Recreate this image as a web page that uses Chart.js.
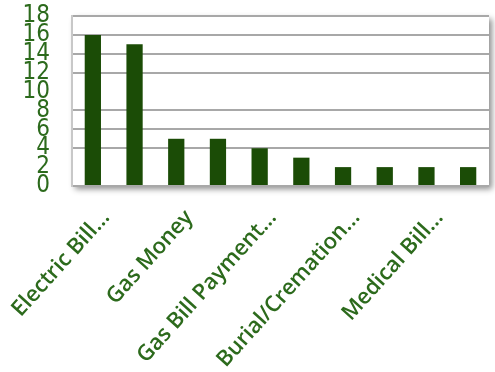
<!DOCTYPE html>
<html>
<head>
<meta charset="utf-8">
<script src="https://cdn.jsdelivr.net/npm/chart.js@4"></script>
<style>
  html, body { margin: 0; padding: 0; background: #fff; }
  #wrap { width: 495px; height: 372px; }
</style>
</head>
<body>
<div id="wrap"><canvas id="helpChart"></canvas></div>
<script>
// only every other category name is readable in the picture
const categories = ['Electric Bill...', '', 'Gas Money', '', 'Gas Bill Payment...', '', 'Burial/Cremation...', '', 'Medical Bill...', '']
const counts = [16, 15, 5, 5, 4, 3, 2, 2, 2, 2]
const yTicks = [0, 2, 4, 6, 8, 10, 12, 14, 16, 18]
const hiddenGrid = [2, 10]

const green = '#1b4c06'
const textGreen = '#2c6a1c'

// soft shadow behind the plot area
const plotShadow = {
  id: 'plotShadow',
  beforeDraw(chart) {
    const { ctx, chartArea: a } = chart
    ctx.save()
    ctx.shadowColor = 'rgba(0,0,0,0.45)'
    ctx.shadowBlur = 6
    ctx.shadowOffsetX = 3
    ctx.shadowOffsetY = 3
    ctx.fillStyle = '#fff'
    ctx.fillRect(a.left, a.top, a.right - a.left, a.bottom - a.top)
    ctx.restore()
  }
}

const ctx = document.getElementById('helpChart')

let config = {
  type: 'bar',
  data: {
    labels: categories,
    datasets: [{
      label: 'Count',
      data: counts,
      backgroundColor: green,
      borderWidth: 0,
      barPercentage: 0.39,
      categoryPercentage: 1.0,
    }]
  },
  options: {
    responsive: true,
    maintainAspectRatio: false,
    animation: false,
    layout: { padding: { top: 16, right: 6, left: 0, bottom: 0 } },
    plugins: {
      legend: { display: false },
      tooltip: { enabled: false }
    },
    scales: {
      x: {
        grid: { display: false, drawTicks: false },
        border: { display: false },
        afterFit: scale => {
          scale.height = 186
          scale.paddingLeft = 0
          scale.paddingRight = 0
        },
        ticks: {
          autoSkip: false,
          minRotation: 48,
          maxRotation: 48,
          padding: 19,
          labelOffset: 13,
          color: textGreen,
          font: { family: 'Open Sans', size: 22, weight: '600' }
        }
      },
      y: {
        min: 0,
        max: 18,
        afterBuildTicks: scale => { scale.ticks = yTicks.map(v => ({ value: v })) },
        afterFit: scale => {
          scale.width = 72
          scale.paddingTop = 0
          scale.paddingBottom = 0
        },
        grid: {
          drawTicks: false,
          lineWidth: 2,
          color: c => hiddenGrid.includes(c.tick.value) ? 'rgba(0,0,0,0)' : '#a8a8a8'
        },
        border: { display: true, color: '#c8c8c8', width: 2 },
        ticks: {
          autoSkip: false,
          padding: 22,
          color: textGreen,
          font: { family: "'DejaVu Sans Condensed', 'Liberation Sans', sans-serif", size: 24 }
        }
      }
    }
  },
  plugins: [plotShadow]
}

let chartHelp = new Chart(ctx, config)
</script>
</body>
</html>
